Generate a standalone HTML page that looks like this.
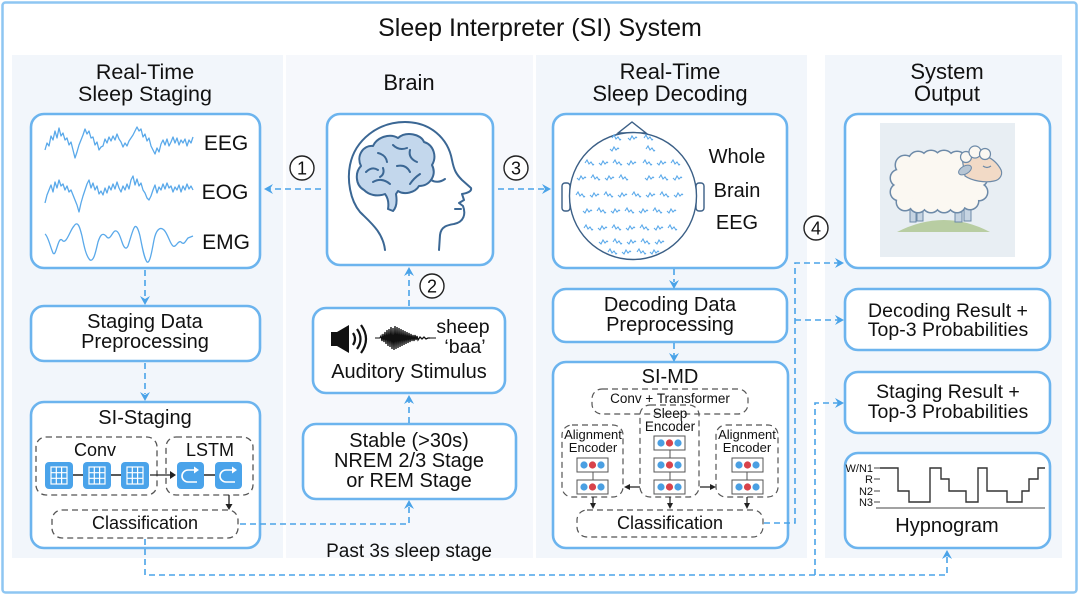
<!DOCTYPE html>
<html><head><meta charset="utf-8"><style>
html,body{margin:0;padding:0;background:#fff;}
svg{display:block;}
text{font-family:"Liberation Sans",Arial,sans-serif;fill:#111;}
</style></head><body>
<svg width="1080" height="596" viewBox="0 0 1080 596" xmlns="http://www.w3.org/2000/svg">
<defs>
<path id="sw1" d="M0,0 l2,-3 l2,4 l2,-2 l2,3 l1,-1" fill="none" stroke="#5aa9ea" stroke-width="1.1"/>
<path id="sw2" d="M0,0 l2,2 l2,-4 l2,3 l2,-2 l1,1" fill="none" stroke="#5aa9ea" stroke-width="1.1"/>
<g id="conv">
<rect x="0" y="0" width="28" height="27" rx="4" fill="#4aa3ea"/>
<rect x="6" y="5" width="16" height="17" fill="none" stroke="#fff" stroke-width="1.2"/>
<path d="M11.3,5 V22 M16.6,5 V22 M6,10.7 H22 M6,16.3 H22" stroke="#fff" stroke-width="1.2"/>
</g>
<g id="lstm">
<rect x="0" y="0" width="27" height="27" rx="4" fill="#4aa3ea"/>
<path d="M18,8 H11 A6,6 0 0 0 11,20 H20" fill="none" stroke="#fff" stroke-width="1.6"/>
<path d="M17,4.5 L22,8 L17,11.5 Z" fill="#fff"/>
</g>
<g id="dots">
<rect x="0" y="0" width="31" height="14" fill="#fff" stroke="#555" stroke-width="1"/>
<circle cx="7" cy="7" r="3.6" fill="#4a9fe2"/>
<circle cx="15.5" cy="7" r="3.6" fill="#d8434b"/>
<circle cx="24" cy="7" r="3.6" fill="#4a9fe2"/>
</g>
</defs>

<!-- outer frame -->
<rect x="2.5" y="2.5" width="1074" height="590" rx="3" fill="#fff" stroke="#8ec6f2" stroke-width="2.5"/>
<text x="540" y="36" font-size="25" text-anchor="middle">Sleep Interpreter (SI) System</text>

<!-- panels -->
<rect x="12" y="55" width="271" height="503" fill="#f2f6fb"/>
<rect x="286" y="55" width="247" height="503" fill="#f6f8fc"/>
<rect x="536" y="55" width="271" height="503" fill="#f2f6fb"/>
<rect x="825" y="55" width="237" height="503" fill="#f2f6fb"/>

<!-- section titles -->
<text x="145" y="79" font-size="21.5" text-anchor="middle">Real-Time</text>
<text x="145" y="101" font-size="21.5" text-anchor="middle">Sleep Staging</text>
<text x="409" y="90" font-size="22" text-anchor="middle">Brain</text>
<text x="670" y="79" font-size="22" text-anchor="middle">Real-Time</text>
<text x="670" y="101" font-size="22" text-anchor="middle">Sleep Decoding</text>
<text x="947" y="79" font-size="22" text-anchor="middle">System</text>
<text x="947" y="101" font-size="22" text-anchor="middle">Output</text>

<g fill="#fff" stroke="#6cb4ee" stroke-width="2.6">
<rect x="31" y="114" width="229" height="154" rx="13"/>
<rect x="31" y="306" width="229" height="55" rx="13"/>
<rect x="31" y="402" width="229" height="146" rx="13"/>
<rect x="327" y="114" width="166" height="151" rx="13"/>
<rect x="313" y="308" width="192" height="85" rx="13"/>
<rect x="303" y="424" width="213" height="75" rx="13"/>
<rect x="553" y="114" width="234" height="154" rx="13"/>
<rect x="553" y="289" width="234" height="53" rx="13"/>
<rect x="553" y="362" width="235" height="186" rx="13"/>
<rect x="845" y="114" width="205" height="154" rx="13"/>
<rect x="845" y="289" width="205" height="61" rx="13"/>
<rect x="845" y="372" width="205" height="61" rx="13"/>
<rect x="845" y="453" width="205" height="95" rx="13"/>
</g>

<!-- waveforms -->
<g fill="none" stroke="#5aa9ea" stroke-width="1.3" stroke-linejoin="round">
<polyline points="45,150 47,143 49,146 51,136 53,140 55,131 57,138 59,128 61,136 63,133 65,140 67,138 69,145 71,142 73,150 75,158 77,152 79,145 81,140 83,135 85,129 87,134 89,131 91,138 93,137 95,145 97,142 99,150 101,147 103,146 105,139 107,143 109,137 111,141 113,136 115,140 117,134 119,139 121,142 123,147 125,143 127,146 129,141 131,138 133,135 135,131 137,127 139,131 141,129 143,137 145,134 147,141 149,138 151,146 153,150 155,154 157,148 159,152 161,144 163,140 165,145 167,139 169,146 171,142 173,137 175,143 177,138 179,145 181,140 183,143 185,139 187,146 189,140 191,143 193,137"/>
<polyline points="45,203 47,195 49,190 51,185 53,192 55,182 57,188 59,180 61,186 63,184 65,190 67,186 69,192 71,190 73,195 75,200 77,205 79,212 81,203 83,196 85,190 87,184 89,180 91,188 93,183 95,190 97,186 99,194 101,191 103,195 105,188 107,193 109,186 111,190 113,184 115,189 117,182 119,188 121,192 123,186 125,190 127,184 129,189 131,180 133,176 135,185 137,179 139,186 141,183 143,190 145,193 147,198 149,200 151,196 153,190 155,185 157,193 159,187 161,190 163,184 165,189 167,183 169,188 171,186 173,192 175,187 177,190 179,185 181,192 183,186 185,190 187,184 189,189 191,186 193,190"/>
<path d="M45,234 C48,236 50,246 53,253 C56,258 58,236 62,240 C66,246 70,230 74,226 C78,220 80,228 82,236 C84,246 86,256 90,260 C94,262 96,250 98,242 C100,236 102,232 106,236 C110,242 112,232 115,231 C118,230 120,236 122,242 C124,248 126,250 128,246 C130,240 132,232 134,228 C136,224 138,228 140,236 C142,246 144,258 147,262 C150,264 152,250 154,240 C156,230 160,226 164,230 C168,234 170,244 173,246 C176,248 178,240 181,242 C184,246 186,240 188,238 L193,236"/>
</g>
<text x="226" y="150" font-size="21" text-anchor="middle">EEG</text>
<text x="225" y="199" font-size="21" text-anchor="middle">EOG</text>
<text x="226" y="249" font-size="21" text-anchor="middle">EMG</text>

<text x="145" y="328" font-size="20" text-anchor="middle">Staging Data</text>
<text x="145" y="348" font-size="20" text-anchor="middle">Preprocessing</text>

<text x="145" y="424" font-size="20" text-anchor="middle">SI-Staging</text>
<g fill="none" stroke="#555" stroke-width="1.3" stroke-dasharray="6 4">
<rect x="36" y="437" width="121" height="58" rx="10"/>
<rect x="166" y="437" width="87" height="58" rx="10"/>
<rect x="52" y="510" width="186" height="28" rx="10"/>
</g>
<text x="95" y="456" font-size="18" text-anchor="middle">Conv</text>
<text x="210" y="456" font-size="18" text-anchor="middle">LSTM</text>
<path d="M73,475 H83 M111,475 H122" stroke="#222" stroke-width="1.5"/>
<use href="#conv" x="45" y="462"/>
<use href="#conv" x="83" y="462"/>
<use href="#conv" x="121" y="462"/>
<path d="M150,475 H172" stroke="#222" stroke-width="1.3"/>
<path d="M170,471 L176,475 L170,479 Z" fill="#222"/>
<path d="M204,475 H215" stroke="#222" stroke-width="1.5"/>
<use href="#lstm" x="177" y="462"/>
<use href="#lstm" x="215" y="462"/>
<path d="M229,495 V506" stroke="#222" stroke-width="1.3"/>
<path d="M225.5,504 L229,510 L232.5,504 Z" fill="#222"/>
<text x="145" y="529" font-size="18" text-anchor="middle">Classification</text>

<!-- brain head -->
<g fill="none" stroke="#3b6794" stroke-width="2" stroke-linecap="round" stroke-linejoin="round">
<path d="M385,250 C383,232 370,222 360,212 C350,200 347,180 350,165 C355,140 378,122 405,122 C430,122 448,138 452,160 C454,170 456,174 462,180 L471,188 C472,191 468,193 462,194 L464,200 L459,203 L463,206 C466,214 464,222 454,224 C448,225 441,226 440,235 L439,250"/>
<path d="M364,190 C355,185 355,172 361,166 C356,156 363,145 373,146 C377,137 390,133 398,138 C406,131 421,134 424,142 C434,145 437,157 432,165 C437,175 430,186 419,186 C415,193 404,195 398,191 L396,194 C397,200 397,207 393,211 L388,209 C389,203 388,198 385,194 C377,197 369,195 364,190 Z" fill="#c3d7ec"/>
<path d="M366,172 q6,-6 12,-2 M378,153 q8,2 9,9 M393,145 q6,6 14,3 M410,150 q-2,8 7,12 M397,166 q9,-2 13,6 M373,182 q9,-5 17,2 M420,174 q-6,4 -10,10 M383,168 q2,6 -3,9"/>
<path d="M431,180 q7,4 14,-1"/>
<path d="M455,209 h6"/>
</g>

<text x="463" y="333" font-size="19.5" text-anchor="middle">sheep</text>
<text x="465" y="353" font-size="19.5" text-anchor="middle">‘baa’</text>
<text x="409" y="378" font-size="20" text-anchor="middle">Auditory Stimulus</text>
<path d="M331,332 H337 L349,325 V353 L337,346 H331 Z" fill="#111"/>
<path d="M353,333 q4,6 0,12 M357,329 q7,10 0,20 M361,325 q10,14 0,28" fill="none" stroke="#111" stroke-width="2.2"/>
<path d="M375,338 H380 M430,338 H436" stroke="#111" stroke-width="1"/>
<path d="M380,338 L381,336 L382,341 L383,334 L384,342 L385,332 L386,344 L387,330 L388,346 L389,329 L390,347 L391,327 L392,349 L393,328 L394,350 L395,326 L396,349 L397,327 L398,348 L399,328 L400,347 L401,329 L402,346 L403,330 L404,345 L405,331 L406,344 L407,332 L408,343 L409,333 L410,342 L411,334 L412,341 L413,335 L414,341 L415,335 L416,340 L417,336 L418,340 L420,337 L422,339 L424,337 L426,339 L428,338 L430,338" fill="none" stroke="#111" stroke-width="1.3"/>

<text x="409" y="447" font-size="20" text-anchor="middle">Stable (&gt;30s)</text>
<text x="409" y="467" font-size="20" text-anchor="middle">NREM 2/3 Stage</text>
<text x="409" y="487" font-size="20" text-anchor="middle">or REM Stage</text>
<text x="409" y="557" font-size="19" text-anchor="middle">Past 3s sleep stage</text>

<!-- whole brain EEG head -->
<g fill="#fff" stroke="#3b5f86" stroke-width="1.4">
<path d="M618,133 L632,122 L646,133 Z"/>
<rect x="562" y="183" width="8" height="28" rx="3"/>
<rect x="696" y="183" width="8" height="28" rx="3"/>
<circle cx="633" cy="196" r="63.5"/>
</g>
<g>
<use href="#sw1" x="612" y="138"/><use href="#sw2" x="628" y="138"/><use href="#sw1" x="644" y="138"/>
<use href="#sw2" x="610" y="149"/><use href="#sw1" x="646" y="149"/>
<use href="#sw1" x="585" y="163"/><use href="#sw2" x="599" y="163"/><use href="#sw1" x="613" y="163"/><use href="#sw2" x="627" y="163"/><use href="#sw1" x="643" y="163"/><use href="#sw2" x="657" y="163"/><use href="#sw1" x="671" y="163"/>
<use href="#sw2" x="577" y="178"/><use href="#sw1" x="591" y="178"/><use href="#sw2" x="605" y="178"/><use href="#sw1" x="619" y="178"/><use href="#sw2" x="645" y="178"/><use href="#sw1" x="659" y="178"/><use href="#sw2" x="673" y="178"/>
<use href="#sw1" x="576" y="195"/><use href="#sw2" x="590" y="195"/><use href="#sw1" x="604" y="195"/><use href="#sw2" x="618" y="195"/><use href="#sw1" x="632" y="195"/><use href="#sw2" x="646" y="195"/><use href="#sw1" x="660" y="195"/><use href="#sw2" x="674" y="195"/>
<use href="#sw2" x="583" y="211"/><use href="#sw1" x="597" y="211"/><use href="#sw2" x="611" y="211"/><use href="#sw1" x="625" y="211"/><use href="#sw2" x="639" y="211"/><use href="#sw1" x="653" y="211"/><use href="#sw2" x="667" y="211"/>
<use href="#sw1" x="584" y="228"/><use href="#sw2" x="598" y="228"/><use href="#sw1" x="612" y="228"/><use href="#sw2" x="626" y="228"/><use href="#sw1" x="640" y="228"/><use href="#sw2" x="654" y="228"/><use href="#sw1" x="668" y="228"/>
<use href="#sw2" x="599" y="242"/><use href="#sw1" x="613" y="242"/><use href="#sw2" x="627" y="242"/><use href="#sw1" x="641" y="242"/><use href="#sw2" x="655" y="242"/>
<use href="#sw1" x="608" y="252"/><use href="#sw2" x="622" y="252"/><use href="#sw1" x="637" y="252"/><use href="#sw2" x="650" y="252"/>
</g>
<text x="737" y="163" font-size="20" text-anchor="middle">Whole</text>
<text x="737" y="197" font-size="20" text-anchor="middle">Brain</text>
<text x="737" y="229" font-size="20" text-anchor="middle">EEG</text>

<text x="670" y="311" font-size="20" text-anchor="middle">Decoding Data</text>
<text x="670" y="331" font-size="20" text-anchor="middle">Preprocessing</text>

<text x="670" y="383" font-size="20" text-anchor="middle">SI-MD</text>
<g fill="none" stroke="#555" stroke-width="1.2" stroke-dasharray="6 4">
<rect x="592" y="389" width="156" height="25" rx="10"/>
<rect x="640" y="405" width="59" height="92" rx="10"/>
<rect x="562" y="425" width="61" height="72" rx="10"/>
<rect x="716" y="425" width="62" height="72" rx="10"/>
<rect x="577" y="510" width="186" height="27" rx="10"/>
</g>
<text x="670" y="403" font-size="13.5" text-anchor="middle">Conv + Transformer</text>
<text x="670" y="418" font-size="13.5" text-anchor="middle">Sleep</text>
<text x="670" y="431" font-size="13.5" text-anchor="middle">Encoder</text>
<text x="593" y="439" font-size="13" text-anchor="middle">Alignment</text>
<text x="593" y="452" font-size="13" text-anchor="middle">Encoder</text>
<text x="747" y="439" font-size="13" text-anchor="middle">Alignment</text>
<text x="747" y="452" font-size="13" text-anchor="middle">Encoder</text>
<path d="M670,450 V458 M670,472 V480 M593,472 V480 M747,472 V480" stroke="#555" stroke-width="1"/>
<use href="#dots" x="654" y="436"/>
<use href="#dots" x="654" y="458"/>
<use href="#dots" x="654" y="480"/>
<use href="#dots" x="577" y="458"/>
<use href="#dots" x="577" y="480"/>
<use href="#dots" x="732" y="458"/>
<use href="#dots" x="732" y="480"/>
<g stroke="#222" stroke-width="1.2">
<path d="M640,487 H628 M700,487 H712 M593,497 V505 M670,497 V505 M747,497 V505"/>
</g>
<g fill="#222">
<path d="M630,484 L624,487 L630,490 Z"/>
<path d="M710,484 L716,487 L710,490 Z"/>
<path d="M590,503 L593,509 L596,503 Z"/>
<path d="M667,503 L670,509 L673,503 Z"/>
<path d="M744,503 L747,509 L750,503 Z"/>
</g>
<text x="670" y="529" font-size="18" text-anchor="middle">Classification</text>

<!-- sheep -->
<rect x="880" y="123" width="135" height="134" fill="#e8eef3"/>
<path d="M897,232 Q944,208 990,232 Z" fill="#b8cda2"/>
<g fill="#c6d4e2" stroke="#6d8aa8" stroke-width="1">
<rect x="910" y="203" width="6" height="19"/>
<rect x="917" y="203" width="6" height="18"/>
<rect x="955" y="203" width="7" height="19"/>
<rect x="964" y="203" width="7" height="18"/>
</g>
<g fill="#fbf8f2" stroke="#6d8aa8" stroke-width="3">
<circle cx="905" cy="165" r="9"/><circle cx="918" cy="161" r="9"/><circle cx="931" cy="160" r="9"/><circle cx="944" cy="160" r="9"/><circle cx="957" cy="161" r="9"/><circle cx="969" cy="165" r="9"/>
<circle cx="905" cy="202" r="8"/><circle cx="918" cy="204" r="8"/><circle cx="931" cy="204" r="8"/><circle cx="944" cy="204" r="8"/><circle cx="957" cy="204" r="8"/><circle cx="970" cy="201" r="8"/>
<circle cx="899" cy="178" r="8"/><circle cx="899" cy="192" r="8"/><circle cx="979" cy="178" r="8"/><circle cx="979" cy="192" r="8"/>
</g>
<g fill="#fbf8f2">
<circle cx="905" cy="165" r="9"/><circle cx="918" cy="161" r="9"/><circle cx="931" cy="160" r="9"/><circle cx="944" cy="160" r="9"/><circle cx="957" cy="161" r="9"/><circle cx="969" cy="165" r="9"/>
<circle cx="905" cy="202" r="8"/><circle cx="918" cy="204" r="8"/><circle cx="931" cy="204" r="8"/><circle cx="944" cy="204" r="8"/><circle cx="957" cy="204" r="8"/><circle cx="970" cy="201" r="8"/>
<circle cx="899" cy="178" r="8"/><circle cx="899" cy="192" r="8"/><circle cx="979" cy="178" r="8"/><circle cx="979" cy="192" r="8"/>
<ellipse cx="940" cy="183" rx="40" ry="22"/>
</g>
<path d="M962,158 C975,150 992,155 1000,168 C1004,174 1000,180 994,181 C985,183 972,181 965,176 Z" fill="#f2dac6" stroke="#6d8aa8" stroke-width="1.2"/>
<g fill="#fbf8f2" stroke="#6d8aa8" stroke-width="1.2">
<circle cx="966" cy="157" r="5.5"/><circle cx="975" cy="152" r="6"/><circle cx="985" cy="154" r="5.5"/>
</g>
<ellipse cx="965" cy="170" rx="7" ry="4" transform="rotate(-30 965 170)" fill="#b7c6d4" stroke="#6d8aa8" stroke-width="1"/>
<path d="M983,166 q4,3 8,0" fill="none" stroke="#6d8aa8" stroke-width="1.2"/>

<text x="948" y="317" font-size="19.5" text-anchor="middle">Decoding Result +</text>
<text x="948" y="336" font-size="19.5" text-anchor="middle">Top-3 Probabilities</text>
<text x="948" y="398" font-size="19.5" text-anchor="middle">Staging Result +</text>
<text x="948" y="418" font-size="19.5" text-anchor="middle">Top-3 Probabilities</text>

<!-- hypnogram -->
<g font-size="11" text-anchor="end">
<text x="873" y="472">W/N1</text>
<text x="873" y="483">R</text>
<text x="873" y="495">N2</text>
<text x="873" y="506">N3</text>
</g>
<path d="M874,468 H880 M874,479 H880 M874,491 H880 M874,502 H880 M876,508 H1045" stroke="#444" stroke-width="1"/>
<path d="M880,468 H898 V491 H909 V502 H930 V468 H941 V479 H949 V491 H966 V502 H978 V468 H987 V491 H1007 V502 H1022 V491 H1029 V479 H1038 V468 H1045" fill="none" stroke="#333" stroke-width="1.4"/>
<text x="947" y="532" font-size="20" text-anchor="middle">Hypnogram</text>

<!-- connectors -->
<g fill="none" stroke="#4aa3e8" stroke-width="1.6" stroke-dasharray="6 4">
<path d="M145,270 V298"/>
<path d="M145,363 V394"/>
<path d="M321,189 H270"/>
<path d="M498,189 H544"/>
<path d="M409,306 V272"/>
<path d="M409,423 V400"/>
<path d="M240,524 H409 V505"/>
<path d="M145,539 V575 H947 V556"/>
<path d="M815,575 V403 H838"/>
<path d="M764,523 H795 V263 H838"/>
<path d="M795,320 H838"/>
<path d="M674,269 V282"/>
<path d="M674,343 V356"/>
</g>
<g fill="#4aa3e8">
<path d="M140,296 L145,305 L150,296 L145,299 Z"/>
<path d="M140,392 L145,401 L150,392 L145,395 Z"/>
<path d="M273,184 L264,189 L273,194 L270,189 Z"/>
<path d="M542,184 L551,189 L542,194 L545,189 Z"/>
<path d="M404,276 L409,267 L414,276 L409,273 Z"/>
<path d="M404,404 L409,395 L414,404 L409,401 Z"/>
<path d="M404,509 L409,500 L414,509 L409,506 Z"/>
<path d="M669,280 L674,289 L679,280 L674,283 Z"/>
<path d="M669,353 L674,362 L679,353 L674,356 Z"/>
<path d="M835,258 L844,263 L835,268 L838,263 Z"/>
<path d="M835,315 L844,320 L835,325 L838,320 Z"/>
<path d="M835,398 L844,403 L835,408 L838,403 Z"/>
<path d="M942,559 L947,550 L952,559 L947,556 Z"/>
</g>

<!-- circled numbers -->
<g fill="#fff" stroke="#222" stroke-width="1.4">
<circle cx="302" cy="168" r="12"/>
<circle cx="516" cy="168" r="12"/>
<circle cx="432" cy="286" r="12"/>
<circle cx="816" cy="228" r="12"/>
</g>
<g font-size="18" text-anchor="middle">
<text x="302" y="174.5">1</text>
<text x="516" y="174.5">3</text>
<text x="432" y="292.5">2</text>
<text x="816" y="234.5">4</text>
</g>
</svg>
</body></html>
